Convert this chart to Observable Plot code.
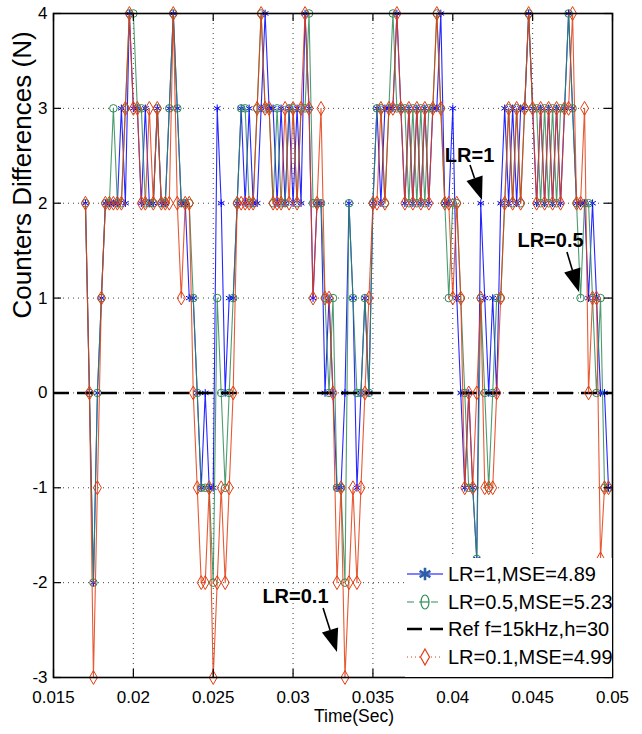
<!DOCTYPE html>
<html><head><meta charset="utf-8">
<script src="https://cdn.jsdelivr.net/npm/d3@7"></script>
<script src="https://cdn.jsdelivr.net/npm/@observablehq/plot@0.6"></script>
<style>
body{margin:0;background:#fff;}
#wrap{position:relative;width:642px;height:734px;font-family:"Liberation Sans",Arial,sans-serif;}
#legend{position:absolute;left:405px;top:558px;}
</style></head><body><div id="wrap"></div>
<script>
// sample times (s)
const timeSec = [
0.017,0.01725,0.0175,0.01775, 0.018,0.01825,0.0185,0.01875, 0.019,0.01925,0.0195,0.01975,
0.02,0.02025,0.0205,0.02075, 0.021,0.02125,0.0215,0.02175, 0.022,0.02225,0.0225,0.02275,
0.023,0.02325,0.0235,0.02375, 0.024,0.02425,0.0245,0.02475, 0.025,0.02525,0.0255,0.02575,
0.026,0.02625,0.0265,0.02675, 0.027,0.02725,0.0275,0.02775, 0.028,0.02825,0.0285,0.02875,
0.029,0.02925,0.0295,0.02975, 0.03,0.03025,0.0305,0.03075, 0.031,0.03125,0.0315,0.03175,
0.032,0.03225,0.0325,0.03275, 0.033,0.03325,0.0335,0.03375, 0.034,0.03425,0.0345,0.03475,
0.035,0.03525,0.0355,0.03575, 0.036,0.03625,0.0365,0.03675, 0.037,0.03725,0.0375,0.03775,
0.038,0.03825,0.0385,0.03875, 0.039,0.03925,0.0395,0.03975, 0.04,0.04025,0.0405,0.04075,
0.041,0.04125,0.0415,0.04175, 0.042,0.04225,0.0425,0.04275, 0.043,0.04325,0.0435,0.04375,
0.044,0.04425,0.0445,0.04475, 0.045,0.04525,0.0455,0.04575, 0.046,0.04625,0.0465,0.04675,
0.047,0.04725,0.0475,0.04775, 0.048,0.04825,0.0485,0.04875, 0.049,0.04925,0.0495,0.04975
];
// LR=1
const lr1 = [
2,0,-2,0, 1,2,2,2, 2,3,2,4, 3,3,2,3, 2,2,3,2, 2,3,4,3, 2,2,1,1, 0,-1,0,-1,
-1,3,2,0, 1,1,2,3, 2,3,2,2, 3,4,3,3, 2,3,2,3, 2,3,2,4, 3,1,2,2, 0,1,0,-1,
-1,0,2,1, -1,0,1,0, 2,3,2,3, 3,3,4,3, 2,3,2,3, 2,3,2,3, 3,4,2,2, 3,1,0,-1,
0,-1,-1.75,2, 1,0,1,0, 2,3,2,3, 2,3,3,4, 3,2,3,2, 3,2,3,2, 3,4,3,2, 2,2,1,2,
1,0,0,-1
];
// LR=0.5
const lr05 = [
2,0,-2,0, 1,2,2,3, 2,2,3,4, 4,3,3,2, 2,2,3,2, 2,3,4,3, 2,2,2,1, 0,-1,-1,-1,
-2,1,0,-1, 0,1,2,3, 3,2,2,3, 4,3,3,2, 3,2,2,3, 3,2,3,3, 4,2,2,2, 1,0,1,-1,
-1,-2,2,1, 0,0,1,0, 2,3,3,2, 3,4,3,3, 3,2,3,2, 3,2,3,3, 4,3,2,1, 2,2,1,0,
-1,-1,-1.75,1, 0,-1,0,1, 1,2,3,2, 3,2,3,4, 3,3,2,3, 2,3,2,3, 3,4,3,2, 1,2,2,1,
0,1,-1,-1
];
// LR=0.1
const lr01 = [
2,0,-3,-1, 1,2,2,2, 2,2,3,4, 3,3,2,2, 3,2,3,2, 2,2,4,2, 1,2,2,0, -1,-2,-2,-1,
-3,-2,-1,-2, -1,0,2,2, 2,2,2,3, 4,3,3,2, 2,2,3,2, 3,2,3,4, 3,1,2,3, 1,1,0,-2,
-1,-3,-2,-1, -2,-1,0,1, 2,2,3,2, 3,3,4,3, 2,3,2,3, 2,3,2,3, 4,3,2,2, 1,2,1,-1,
0,-1,0,1, -1,-1,-1,0, 1,2,3,2, 3,2,3,4, 3,2,3,2, 3,2,3,2, 3,3,4,2, 2,3,0,1,
1,-1.75,-1,-1
];
const refLevel = 0;
const xTicks = [0.015,0.02,0.025,0.03,0.035,0.04,0.045,0.05];
const yTicks = [-3,-2,-1,0,1,2,3,4];
const seriesNames = ["LR=1,MSE=4.89","LR=0.5,MSE=5.23","Ref f=15kHz,h=30","LR=0.1,MSE=4.99"];
const xLabel = "Time(Sec)";
const yLabel = "Counters Differences (N)";
// annotations
const annLabels = ["LR=1","LR=0.5","LR=0.1"];
const annTextT = [0.04105,0.04612,0.03015];
const annTextV = [2.50,1.607,-2.146];
const annFromT = [0.04111,0.04718,0.03191];
const annFromV = [2.398,1.480,-2.273];
const annToT = [0.04186,0.04793,0.03278];
const annToV = [2.029,1.059,-2.736];

const BLUE = "#0000ff", GREEN = "#2e8b57", RED = "#e23d12";
const rows = vals => timeSec.map((t,i)=>({t, v: vals[i]}));
const dB = rows(lr1), dG = rows(lr05), dR = rows(lr01);
const annData = annLabels.map((label,i)=>({label, t: annTextT[i], v: annTextV[i]}));

const W = 642, H = 734, mL = 53, mR = 30, mT = 13, mB = 57;
const innerW = W - mL - mR, innerH = H - mT - mB, tick = 8;

const plot = Plot.plot({
  width: W, height: H, marginLeft: mL, marginRight: mR, marginTop: mT, marginBottom: mB,
  style: {fontFamily: "'Liberation Sans', Arial, sans-serif", fontSize: "17px", background: "#fff", color: "#000"},
  x: {domain: [0.015, 0.05], ticks: xTicks, tickFormat: d => String(d), tickSize: 0, tickPadding: 13, label: null},
  y: {domain: [-3, 4], ticks: yTicks, tickFormat: d => String(d), tickSize: 0, tickPadding: 6, label: null},
  marks: [
    Plot.ruleX(xTicks, {stroke: "#444", strokeDasharray: "1,4", strokeWidth: 1}),
    Plot.ruleY(yTicks, {stroke: "#444", strokeDasharray: "1,4", strokeWidth: 1}),
    Plot.line(dB, {x: "t", y: "v", stroke: BLUE, strokeWidth: 1.1, strokeOpacity: 0.85}),
    Plot.dot(dB, {x: "t", y: "v", symbol: "asterisk", stroke: BLUE, r: 3.6, strokeWidth: 1}),
    Plot.line(dG, {x: "t", y: "v", stroke: GREEN, strokeWidth: 1.1, strokeOpacity: 0.85}),
    Plot.dot(dG, {x: "t", y: "v", symbol: "circle", stroke: GREEN, fill: "none", r: 3.8, strokeWidth: 1}),
    Plot.ruleY([refLevel], {stroke: "#000", strokeWidth: 2.6, strokeDasharray: "16,8"}),
    Plot.line(dR, {x: "t", y: "v", stroke: RED, strokeWidth: 1.1, strokeOpacity: 0.85}),
    Plot.dot(dR, {x: "t", y: "v", symbol: "diamond", stroke: RED, fill: "none", r: 4.2, strokeWidth: 1}),
    Plot.frame({stroke: "#000", strokeWidth: 1.6}),
    Plot.ruleX(xTicks, {stroke: "#000", strokeWidth: 1.2, insetBottom: innerH - tick}),
    Plot.ruleX(xTicks, {stroke: "#000", strokeWidth: 1.2, insetTop: innerH - tick}),
    Plot.ruleY(yTicks, {stroke: "#000", strokeWidth: 1.2, insetRight: innerW - tick}),
    Plot.ruleY(yTicks, {stroke: "#000", strokeWidth: 1.2, insetLeft: innerW - tick}),
    Plot.text(annData, {x: "t", y: "v", text: "label", fontWeight: "bold", fontSize: 20, fill: "#000"}),
    Plot.text([yLabel], {text: d => d, frameAnchor: "left", rotate: -90, dx: -31, dy: -27, fontSize: 26, fill: "#000"}),
    Plot.text([xLabel], {text: d => d, frameAnchor: "bottom", dx: 21, dy: 44, fontSize: 17.5, fill: "#000"})
  ]
});
document.getElementById("wrap").appendChild(plot);

// arrows with filled heads, positioned through the plot's scales
const sx = plot.scale("x"), sy = plot.scale("y");
const svg = d3.select(plot);
annLabels.forEach((_, i) => {
  const x1 = sx.apply(annFromT[i]), y1 = sy.apply(annFromV[i]);
  const x2 = sx.apply(annToT[i]), y2 = sy.apply(annToV[i]);
  const dx = x2 - x1, dy = y2 - y1, L = Math.hypot(dx, dy), ux = dx / L, uy = dy / L;
  const hl = 23, hw = 8.5;
  const bx = x2 - ux * hl, by = y2 - uy * hl;
  svg.append("line").attr("x1", x1).attr("y1", y1).attr("x2", bx).attr("y2", by)
    .attr("stroke", "#000").attr("stroke-width", 1.6);
  svg.append("path").attr("d", `M${x2},${y2}L${bx - uy * hw},${by + ux * hw}L${bx + uy * hw},${by - ux * hw}Z`)
    .attr("fill", "#000");
});

// legend (inside plot area, lower right)
const lg = d3.select("#wrap").append("svg").attr("id", "legend").attr("width", 207).attr("height", 119);
lg.append("rect").attr("width", 207).attr("height", 119).attr("fill", "#fff");
const rowY = [16, 44, 71, 99];
const styles = [
  {stroke: BLUE, dash: null, w: 1.2},
  {stroke: GREEN, dash: "7,5", w: 1.2},
  {stroke: "#000", dash: "15,8", w: 2.4},
  {stroke: RED, dash: "1,3", w: 1.2}
];
seriesNames.forEach((name, i) => {
  const y = rowY[i], s = styles[i];
  const ln = lg.append("line").attr("x1", 2).attr("x2", 38).attr("y1", y).attr("y2", y)
    .attr("stroke", s.stroke).attr("stroke-width", s.w);
  if (s.dash) ln.attr("stroke-dasharray", s.dash);
  if (i === 0) {
    lg.append("path").attr("d", d3.symbol(d3.symbolAsterisk, 110)()).attr("transform", `translate(20,${y})`)
      .attr("stroke", "#2c5fa8").attr("stroke-width", 2.6).attr("fill", "none");
  } else if (i === 1) {
    lg.append("ellipse").attr("cx", 20).attr("cy", y).attr("rx", 4).attr("ry", 7)
      .attr("stroke", GREEN).attr("stroke-width", 1.2).attr("fill", "#fff");
    lg.append("line").attr("x1", 16).attr("x2", 24).attr("y1", y).attr("y2", y).attr("stroke", GREEN).attr("stroke-width", 1.2);
  } else if (i === 3) {
    lg.append("path").attr("d", `M20,${y - 8}L24.5,${y}L20,${y + 8}L15.5,${y}Z`)
      .attr("stroke", RED).attr("stroke-width", 1.2).attr("fill", "#fff");
  }
  lg.append("text").attr("x", 43).attr("y", y).attr("dy", "0.35em").attr("font-size", 20)
    .attr("font-family", "'Liberation Sans', Arial, sans-serif").attr("fill", "#000").text(name);
});
</script></body></html>
